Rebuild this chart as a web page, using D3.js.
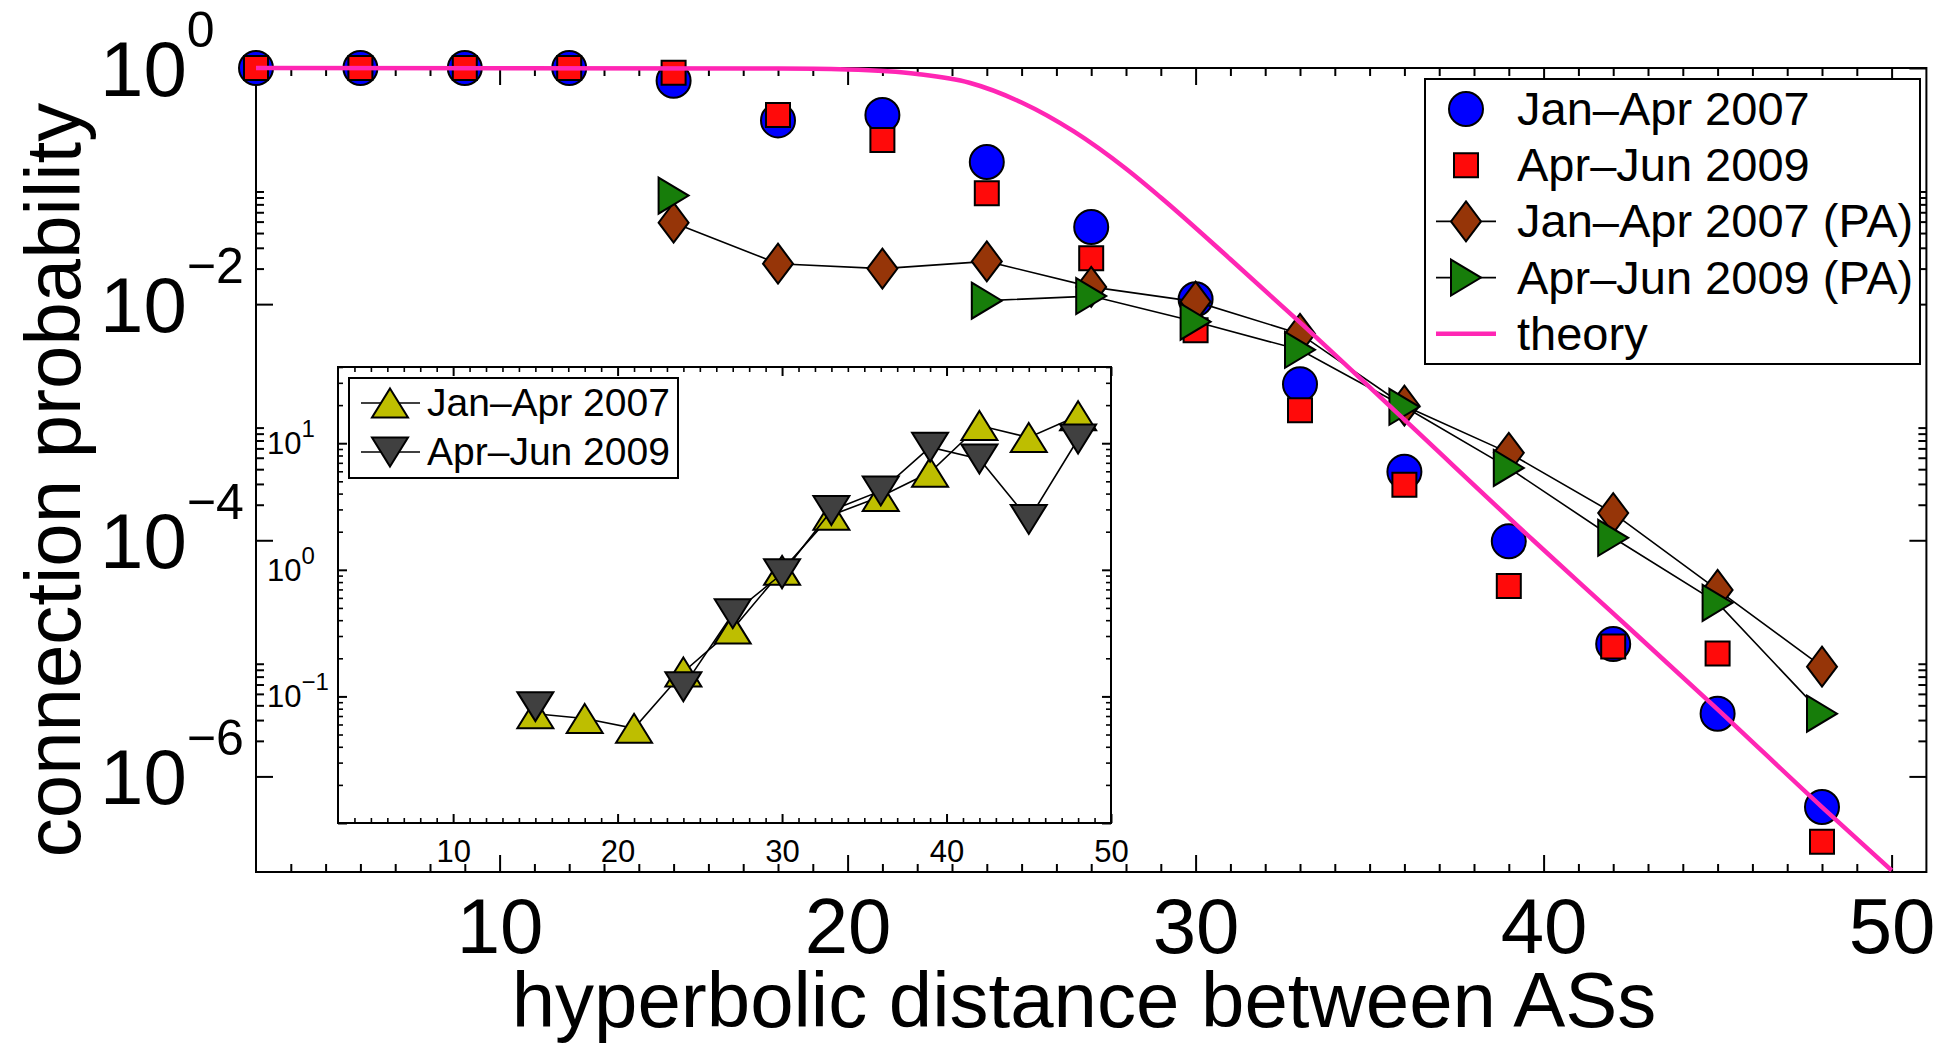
<!DOCTYPE html>
<html>
<head>
<meta charset="utf-8">
<script src="https://cdn.jsdelivr.net/npm/d3@7"></script>
<style>
  html, body { margin: 0; padding: 0; background: #fff; }
  svg { display: block; font-family: "Liberation Sans", Arial, Helvetica, sans-serif; }
</style>
</head>
<body>
<svg id="chart" width="1940" height="1045"></svg>
<script>
// ---- data: connection probability vs hyperbolic distance ----
const distances = [3, 6, 9, 12, 15, 18, 21, 24, 27, 30, 33, 36, 39, 42, 45, 48];
const janApr2007 = [1, 1, 1, 1, 0.78, 0.36, 0.40, 0.16, 0.045, 0.011, 2.1e-3, 3.8e-4, 9.8e-5, 1.32e-5, 3.4e-6, 5.5e-7];
const aprJun2009 = [1, 1, 1, 1, 0.91, 0.40, 0.245, 0.087, 0.0245, 6.0e-3, 1.26e-3, 2.95e-4, 4.1e-5, 1.26e-5, 1.1e-5, 2.8e-7];

const paDistances = [15, 18, 21, 24, 27, 30, 33, 36, 39, 42, 45, 48];
const janApr2007PA = [0.049, 0.022, 0.020, 0.023, 0.014, 0.0105, 5.6e-3, 1.38e-3, 5.5e-4, 1.7e-4, 3.8e-5, 8.5e-6];
const aprJun2009PA = [0.083, null, null, 0.0107, 0.0117, 7.1e-3, 4.1e-3, 1.35e-3, 4.1e-4, 1.05e-4, 2.95e-5, 3.4e-6];

const theoryX = [3, 18, 20, 22, 23.5, 25, 26.5, 28, 29, 31, 33, 36, 39.7, 42, 45, 48, 50];
const theoryP = [1, 0.99, 0.97, 0.89, 0.75, 0.51, 0.29, 0.14, 0.08, 0.024, 7.0e-3, 1.05e-3, 1.0e-4, 2.4e-5, 3.7e-6, 5.5e-7, 1.6e-7];

// inset: ratio of observed to PA connection probability
const ratio2007 = [0.073, 0.067, 0.056, 0.156, 0.34, 0.99, 2.7, 3.8, 5.9, 13.8, 11.1, 16.5];
const ratio2009 = [0.083, null, null, 0.119, 0.45, 0.93, 2.94, 4.2, 9.3, 7.5, 2.5, 10.8];

const xTickLabels = [10, 20, 30, 40, 50];
const yTickLabels = [1, 1e-2, 1e-4, 1e-6];
const insetYTickLabels = [0.1, 1, 10];

const mainLegend = ["Jan\u2013Apr 2007", "Apr\u2013Jun 2009", "Jan\u2013Apr 2007 (PA)", "Apr\u2013Jun 2009 (PA)", "theory"];
const insetLegend = ["Jan\u2013Apr 2007", "Apr\u2013Jun 2009"];

// ---- styling ----
const COL = {
  blue: "#0000ff", red: "#ff0a0a", brown: "#963508", green: "#177d0a",
  pink: "#ff26b4", yellow: "#bebe00", dark: "#404040"
};
const FONT = "'Liberation Sans', Arial, Helvetica, sans-serif";

const svg = d3.select("#chart");

// ---- marker shapes (centered at origin) ----
const shape = {
  circle: r => `M${r},0A${r},${r} 0 1,1 ${-r},0A${r},${r} 0 1,1 ${r},0Z`,
  square: h => `M${-h},${-h}H${h}V${h}H${-h}Z`,
  diamond: (w, h) => `M0,${-h}L${w},0L0,${h}L${-w},0Z`,
  triRight: (w, h) => `M${-w},${-h}L${w},0L${-w},${h}Z`,
  triUp: (w, h) => `M0,${-h}L${w},${h}L${-w},${h}Z`,
  triDown: (w, h) => `M0,${h}L${w},${-h}L${-w},${-h}Z`
};
const MARK = {
  circle: shape.circle(17),
  square: shape.square(12),
  diamond: shape.diamond(15, 20),
  triRight: shape.triRight(15, 18),
  triUp: shape.triUp(18, 14.5),
  triDown: shape.triDown(18, 14.5)
};

function range(a, b) { const o = []; for (let i = a; i <= b; i++) o.push(i); return o; }
function logMinors(majors, dom) {
  const out = [];
  majors.forEach(m => { for (let k = 2; k <= 9; k++) { const v = m * k; if (v >= dom[0] && v <= dom[1]) out.push(v); } });
  return out;
}
function tickGroup(parent, axis, tr, width) {
  const g = parent.append("g").attr("transform", tr).call(axis);
  g.select(".domain").remove();
  g.selectAll(".tick line").attr("stroke", "#000").attr("stroke-width", width);
  return g;
}
function pairs(xs, vs) { return xs.map((d, i) => ({ x: d, v: vs[i] })); }

function drawSeries(g, xs, ys, data, mark, fill, withLine) {
  const pts = data.filter(d => d.v != null);
  if (withLine) {
    const line = d3.line().defined(d => d.v != null).x(d => xs(d.x)).y(d => ys(d.v));
    g.append("path").datum(data).attr("d", line)
      .attr("fill", "none").attr("stroke", "#000").attr("stroke-width", 1.6);
  }
  g.append("g").selectAll("path").data(pts).join("path")
    .attr("transform", d => `translate(${xs(d.x)},${ys(d.v)})`)
    .attr("d", mark).attr("fill", fill).attr("stroke", "#000").attr("stroke-width", 2);
}

// ================= main plot =================
const x = d3.scaleLinear().domain([3, 51]).range([256, 1926.4]);
const y = d3.scaleLog().domain([1.55e-7, 1]).range([872, 68]);
const [X0, X1] = x.range();
const [Y1, Y0] = y.range();

const yMajor = [1, 1e-2, 1e-4, 1e-6];
const yMinor = logMinors(yMajor, y.domain());
const xMinor = range(4, 50).filter(d => d % 10 !== 0);

const main = svg.append("g");

// ticks on all four sides, pointing inward
[[d3.axisBottom, `translate(0,${Y1})`], [d3.axisTop, `translate(0,${Y0})`]].forEach(([ax, tr]) => {
  tickGroup(main, ax(x).tickValues(xTickLabels).tickSize(-17).tickSizeOuter(0).tickFormat(""), tr, 2);
  tickGroup(main, ax(x).tickValues(xMinor).tickSize(-8).tickSizeOuter(0).tickFormat(""), tr, 2);
});
[[d3.axisLeft, `translate(${X0},0)`], [d3.axisRight, `translate(${X1},0)`]].forEach(([ax, tr]) => {
  tickGroup(main, ax(y).tickValues(yMajor).tickSize(-17).tickSizeOuter(0).tickFormat(""), tr, 2);
  tickGroup(main, ax(y).tickValues(yMinor).tickSize(-8).tickSizeOuter(0).tickFormat(""), tr, 2);
});

main.append("rect").attr("x", X0).attr("y", Y0).attr("width", X1 - X0).attr("height", Y1 - Y0)
  .attr("fill", "none").attr("stroke", "#000").attr("stroke-width", 2);

// x tick labels
const xLab = main.append("g").attr("transform", `translate(0,${Y1})`)
  .call(d3.axisBottom(x).tickValues(xTickLabels).tickSize(0).tickPadding(26).tickFormat(d3.format("d")));
xLab.select(".domain").remove();
xLab.attr("font-size", 78).attr("font-family", FONT);
xLab.selectAll("text").attr("fill", "#000");

// y tick labels as powers of ten
main.append("g").attr("font-size", 78).attr("font-family", FONT)
  .selectAll("text").data(yTickLabels).join("text")
  .attr("x", 100).attr("y", d => y(d) + 28)
  .each(function (d) {
    const t = d3.select(this);
    t.append("tspan").text("10");
    t.append("tspan").attr("font-size", 50).attr("dy", -49)
      .text(String(Math.round(Math.log10(d))).replace("-", "\u2212"));
  });

// axis titles
svg.append("text").attr("x", 1084).attr("y", 1027).attr("text-anchor", "middle")
  .attr("font-size", 78).attr("font-family", FONT).text("hyperbolic distance between ASs");
svg.append("text").attr("transform", "translate(80,480) rotate(-90)").attr("text-anchor", "middle")
  .attr("font-size", 78).attr("font-family", FONT).text("connection probability");

// data series
const plot = main.append("g");
drawSeries(plot, x, y, pairs(distances, janApr2007), MARK.circle, COL.blue, false);
drawSeries(plot, x, y, pairs(distances, aprJun2009), MARK.square, COL.red, false);
drawSeries(plot, x, y, pairs(paDistances, janApr2007PA), MARK.diamond, COL.brown, true);
drawSeries(plot, x, y, pairs(paDistances, aprJun2009PA), MARK.triRight, COL.green, true);

// theory curve
svg.append("clipPath").attr("id", "plotClip").append("rect")
  .attr("x", X0).attr("y", Y0 - 6).attr("width", X1 - X0).attr("height", Y1 - Y0 + 6);
const theoryLine = d3.line().curve(d3.curveMonotoneX).x(d => x(d.x)).y(d => y(d.v));
plot.append("path").datum(pairs(theoryX, theoryP)).attr("d", theoryLine)
  .attr("clip-path", "url(#plotClip)")
  .attr("fill", "none").attr("stroke", COL.pink).attr("stroke-width", 4.5);

// main legend
const lg = svg.append("g");
lg.append("rect").attr("x", 1425).attr("y", 79).attr("width", 495).attr("height", 285)
  .attr("fill", "#fff").attr("stroke", "#000").attr("stroke-width", 2);
const legendMarks = [
  { mark: MARK.circle, fill: COL.blue, line: null },
  { mark: MARK.square, fill: COL.red, line: null },
  { mark: MARK.diamond, fill: COL.brown, line: "#000" },
  { mark: MARK.triRight, fill: COL.green, line: "#000" },
  { mark: null, fill: null, line: COL.pink }
];
mainLegend.forEach((label, i) => {
  const cy = 109 + i * 56.2;
  const m = legendMarks[i];
  if (m.line) {
    lg.append("line").attr("x1", 1436).attr("x2", 1496).attr("y1", cy).attr("y2", cy)
      .attr("stroke", m.line).attr("stroke-width", m.mark ? 1.6 : 4.5);
  }
  if (m.mark) {
    lg.append("path").attr("transform", `translate(1466,${cy})`).attr("d", m.mark)
      .attr("fill", m.fill).attr("stroke", "#000").attr("stroke-width", 2);
  }
  lg.append("text").attr("x", 1517).attr("y", cy + 16).attr("font-size", 47)
    .attr("font-family", FONT).text(label);
});

// ================= inset =================
const xi = d3.scaleLinear().domain([3, 50]).range([338, 1111]);
const yi = d3.scaleLog().domain([0.01, 40]).range([823, 367]);
const [XI0, XI1] = xi.range();
const [YI1, YI0] = yi.range();

const inset = svg.append("g");
inset.append("rect").attr("x", XI0).attr("y", YI0).attr("width", XI1 - XI0).attr("height", YI1 - YI0)
  .attr("fill", "#fff");

const yiMajor = [0.01, 0.1, 1, 10];
const yiMinor = logMinors(yiMajor, yi.domain());
const xiMinor = range(4, 49).filter(d => d % 10 !== 0);

[[d3.axisBottom, `translate(0,${YI1})`], [d3.axisTop, `translate(0,${YI0})`]].forEach(([ax, tr]) => {
  tickGroup(inset, ax(xi).tickValues(xTickLabels).tickSize(-9).tickSizeOuter(0).tickFormat(""), tr, 2);
  tickGroup(inset, ax(xi).tickValues(xiMinor).tickSize(-5).tickSizeOuter(0).tickFormat(""), tr, 1.6);
});
[[d3.axisLeft, `translate(${XI0},0)`], [d3.axisRight, `translate(${XI1},0)`]].forEach(([ax, tr]) => {
  tickGroup(inset, ax(yi).tickValues(yiMajor).tickSize(-9).tickSizeOuter(0).tickFormat(""), tr, 2);
  tickGroup(inset, ax(yi).tickValues(yiMinor).tickSize(-5).tickSizeOuter(0).tickFormat(""), tr, 1.6);
});
inset.append("rect").attr("x", XI0).attr("y", YI0).attr("width", XI1 - XI0).attr("height", YI1 - YI0)
  .attr("fill", "none").attr("stroke", "#000").attr("stroke-width", 2);

const xiLab = inset.append("g").attr("transform", `translate(0,${YI1})`)
  .call(d3.axisBottom(xi).tickValues(xTickLabels).tickSize(0).tickPadding(17).tickFormat(d3.format("d")));
xiLab.select(".domain").remove();
xiLab.attr("font-size", 31).attr("font-family", FONT);
xiLab.selectAll("text").attr("fill", "#000");

inset.append("g").attr("font-size", 31).attr("font-family", FONT)
  .selectAll("text").data(insetYTickLabels).join("text")
  .attr("x", 267).attr("y", d => yi(d) + 11)
  .each(function (d) {
    const t = d3.select(this);
    t.append("tspan").text("10");
    t.append("tspan").attr("font-size", 24).attr("dy", -17)
      .text(String(Math.round(Math.log10(d))).replace("-", "\u2212"));
  });

const iplot = inset.append("g");
drawSeries(iplot, xi, yi, pairs(paDistances, ratio2007), MARK.triUp, COL.yellow, true);
drawSeries(iplot, xi, yi, pairs(paDistances, ratio2009), MARK.triDown, COL.dark, true);

// inset legend
const il = inset.append("g");
il.append("rect").attr("x", 349).attr("y", 378).attr("width", 329).attr("height", 100)
  .attr("fill", "#fff").attr("stroke", "#000").attr("stroke-width", 2);
const insetMarks = [{ mark: MARK.triUp, fill: COL.yellow }, { mark: MARK.triDown, fill: COL.dark }];
insetLegend.forEach((label, i) => {
  const cy = 403 + i * 49;
  il.append("line").attr("x1", 361).attr("x2", 420).attr("y1", cy).attr("y2", cy)
    .attr("stroke", "#000").attr("stroke-width", 1.6);
  il.append("path").attr("transform", `translate(390,${cy})`).attr("d", insetMarks[i].mark)
    .attr("fill", insetMarks[i].fill).attr("stroke", "#000").attr("stroke-width", 2);
  il.append("text").attr("x", 427).attr("y", cy + 13).attr("font-size", 39)
    .attr("font-family", FONT).text(label);
});
</script>
</body>
</html>
